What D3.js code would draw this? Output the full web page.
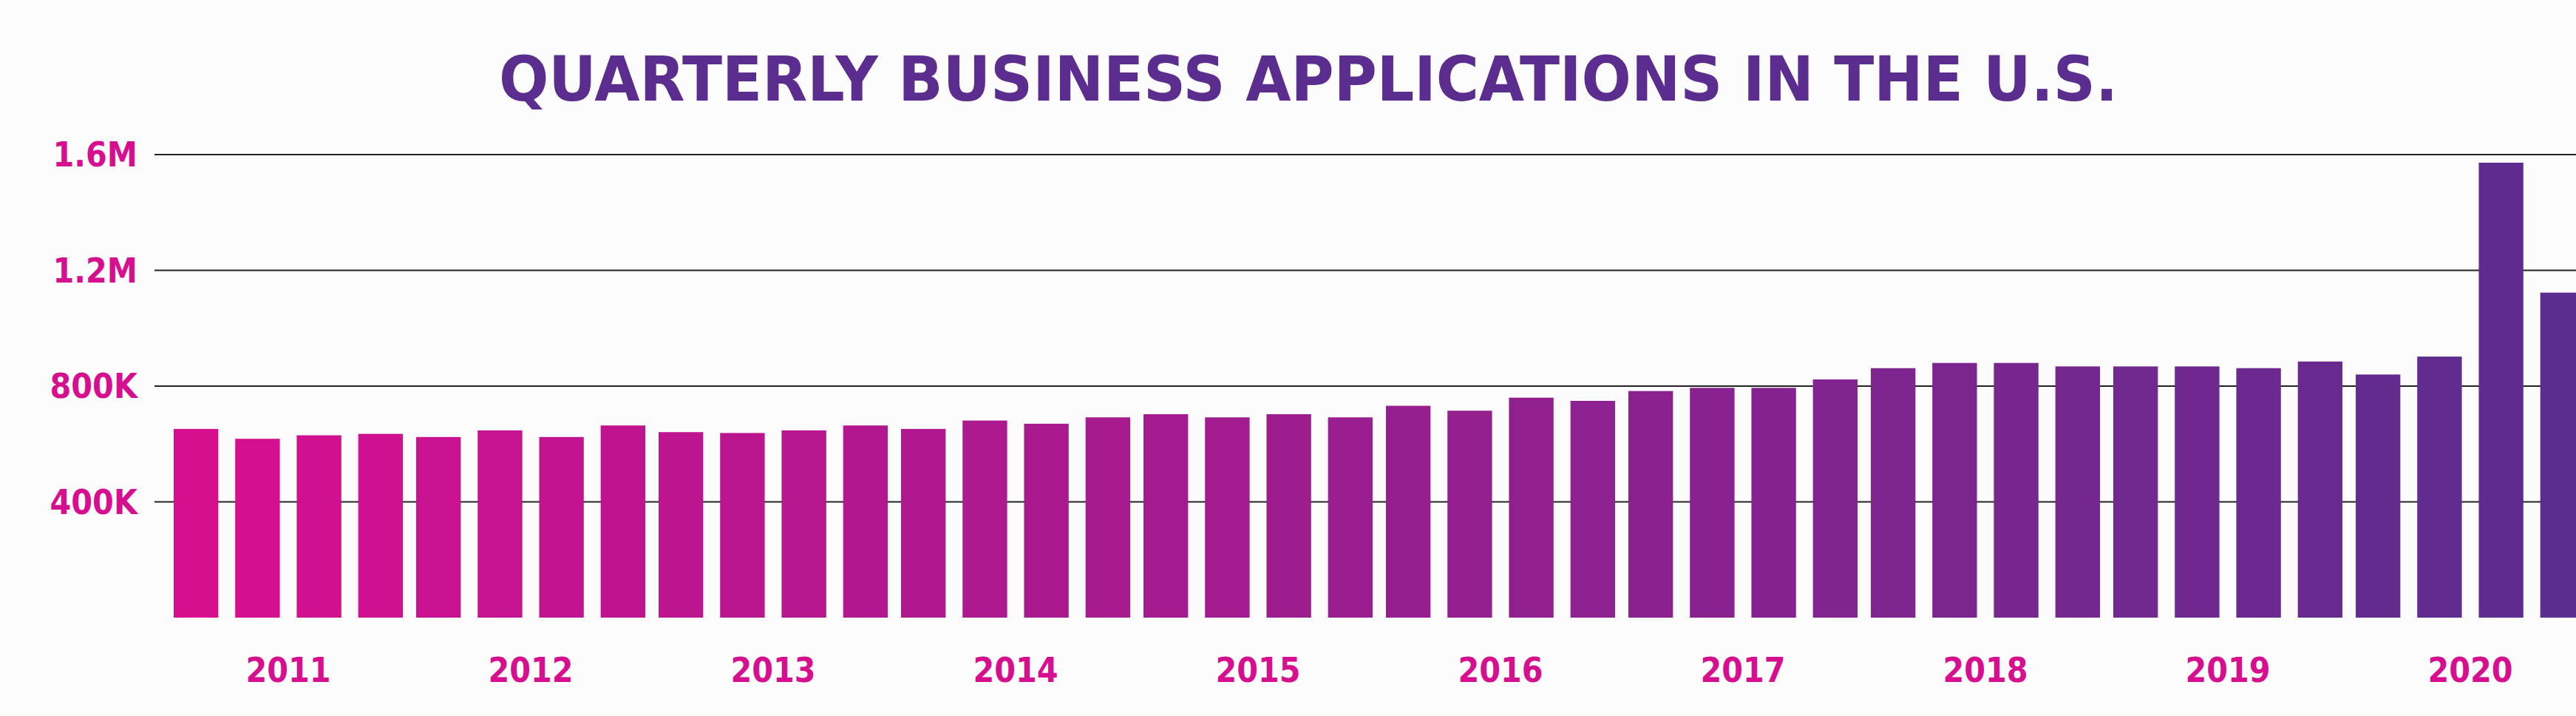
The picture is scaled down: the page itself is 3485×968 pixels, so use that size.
<!DOCTYPE html>
<html><head><meta charset="utf-8">
<script src="https://cdn.jsdelivr.net/npm/d3@7"></script>
<style>body{margin:0;background:#fdfcfd;overflow:hidden}</style>
</head><body><div id="chart"></div>
<script>
// quarterly applications, 2011 Q1 .. 2020 Q4
const years = ["2011","2012","2013","2014","2015","2016","2017","2018","2019","2020"];
const quarters = ["Q1","Q2","Q3","Q4"];
const applications = [
  652000, 618000, 630000, 635000,
  624000, 647000, 624000, 664000,
  641000, 638000, 647000, 664000,
  652000, 681000, 670000, 692000,
  703000, 692000, 703000, 692000,
  732000, 715000, 760000, 749000,
  783000, 794000, 794000, 823000,
  862000, 880000, 880000, 868000,
  868000, 868000, 862000, 885000,
  840000, 902000, 1572000, 1123000
];
const yTicks = [400000, 800000, 1200000, 1600000];
const yTickLabels = ["400K", "800K", "1.2M", "1.6M"];

const width = 3485, height = 968;
const pink = "#d60f8f", purple = "#5b2d8f";

const data = applications.map((v, i) => ({
  year: years[Math.floor(i / 4)], q: quarters[i % 4], value: v, i
}));

const svg = d3.select("#chart").append("svg")
  .attr("width", width).attr("height", height);

// year bands, quarter bands inside each
const x0 = d3.scaleBand().domain(years).range([226, 226 + 328 * 10]).paddingInner(0).paddingOuter(0);
const x1 = d3.scaleBand().domain(quarters).range([9, 328 - 9]).paddingInner(0.275);

const y = d3.scaleLinear().domain([0, 1600000]).range([835, 209]);

// gridlines
svg.append("g").selectAll("line").data(yTicks).join("line")
  .attr("x1", 209).attr("x2", width)
  .attr("y1", d => y(d)).attr("y2", d => y(d))
  .attr("stroke", "#222").attr("stroke-width", 2);

const col = d3.interpolateRgb(pink, purple);

svg.append("g").selectAll("rect").data(data).join("rect")
  .attr("x", d => x0(d.year) + x1(d.q))
  .attr("width", x1.bandwidth())
  .attr("y", d => y(d.value))
  .attr("height", d => y(0) - y(d.value))
  .attr("fill", d => col(d.i / (data.length - 1)));

// y labels
svg.append("g").selectAll("text").data(yTicks).join("text")
  .attr("x", 186).attr("y", d => y(d))
  .attr("text-anchor", "end").attr("dominant-baseline", "central")
  .attr("font-family", "DejaVu Sans Condensed, DejaVu Sans").attr("font-weight", "bold")
  .attr("font-size", 46).attr("fill", pink)
  .text((d, i) => yTickLabels[i]);

// year labels
svg.append("g").selectAll("text").data(years).join("text")
  .attr("x", d => x0(d) + x0.bandwidth() / 2).attr("y", 906)
  .attr("text-anchor", "middle").attr("dominant-baseline", "central")
  .attr("font-family", "DejaVu Sans Condensed, DejaVu Sans").attr("font-weight", "bold")
  .attr("font-size", 46).attr("fill", pink)
  .text(d => d);

svg.append("text")
  .attr("x", 1770).attr("y", 107)
  .attr("text-anchor", "middle").attr("dominant-baseline", "central")
  .attr("font-family", "DejaVu Sans").attr("font-weight", "bold")
  .attr("font-size", 84).attr("fill", purple)
  .attr("textLength", 2190).attr("lengthAdjust", "spacingAndGlyphs")
  .text("QUARTERLY BUSINESS APPLICATIONS IN THE U.S.");
</script></body></html>
